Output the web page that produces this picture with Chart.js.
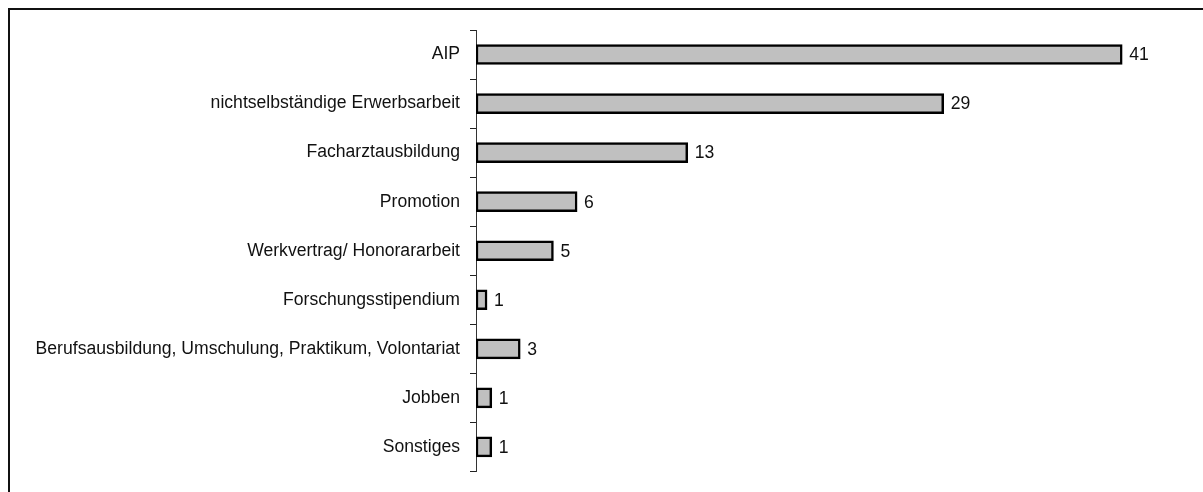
<!DOCTYPE html>
<html>
<head>
<meta charset="utf-8">
<script src="https://cdn.jsdelivr.net/npm/chart.js@4.4.1/dist/chart.umd.min.js"></script>
<style>
    html, body { margin: 0; padding: 0; background: #fff; }
    #frame {
        position: absolute; left: 8px; top: 8px; width: 1195px; height: 484px;
        border-top: 2px solid #111; border-left: 2px solid #111; box-sizing: border-box;
    }
    #wrap { position: absolute; left: 0; top: 0; width: 1203px; height: 492px; }
</style>
</head>
<body>
<div id="frame"></div>
<div id="wrap"><canvas id="chart" width="1203" height="492"></canvas></div>
<script>
// Kategorien und Werte
const categories = [
    'AIP',
    'nichtselbständige Erwerbsarbeit',
    'Facharztausbildung',
    'Promotion',
    'Werkvertrag/ Honorararbeit',
    'Forschungsstipendium',
    'Berufsausbildung, Umschulung, Praktikum, Volontariat',
    'Jobben',
    'Sonstiges'
];
const values = [40.9, 29.6, 13.4, 6.4, 4.9, 0.7, 2.8, 1.0, 1.0];
const shownLabels = ['41', '29', '13', '6', '5', '1', '3', '1', '1'];

const FONT = { family: '"Liberation Sans", Arial, sans-serif', size: 17.6 };

// Werte-Beschriftung am Balkenende
const valueLabels = {
    id: 'valueLabels',
    afterDatasetsDraw(chart) {
        const ctx = chart.ctx;
        const meta = chart.getDatasetMeta(0);
        ctx.save();
        ctx.font = `${FONT.size}px ${FONT.family}`;
        ctx.fillStyle = '#111';
        ctx.textBaseline = 'middle';
        ctx.textAlign = 'left';
        meta.data.forEach((bar, i) => {
            ctx.fillText(shownLabels[i], bar.x + 7, bar.y + 1);
        });
        ctx.restore();
    }
};

new Chart(document.getElementById('chart'), {
    type: 'bar',
    data: {
        labels: categories,
        datasets: [{
            data: values,
            backgroundColor: '#c0c0c0',
            borderColor: '#000',
            borderWidth: 2.5,
            borderSkipped: false,
            barThickness: 20
        }]
    },
    options: {
        indexAxis: 'y',
        responsive: false,
        animation: false,
        plugins: {
            legend: { display: false },
            tooltip: { enabled: false }
        },
        layout: {
            padding: { top: 30, right: 16, bottom: 12, left: 0 }
        },
        scales: {
            x: {
                display: false,
                min: 0,
                max: 45
            },
            y: {
                afterFit(scale) { scale.width = 476; },
                grid: {
                    drawOnChartArea: false,
                    drawTicks: true,
                    tickLength: 6,
                    tickColor: '#222',
                    offset: true
                },
                border: { color: '#333', width: 1 },
                ticks: {
                    color: '#111',
                    padding: 10,
                    font: FONT
                }
            }
        }
    },
    plugins: [valueLabels]
});
</script>
</body>
</html>
